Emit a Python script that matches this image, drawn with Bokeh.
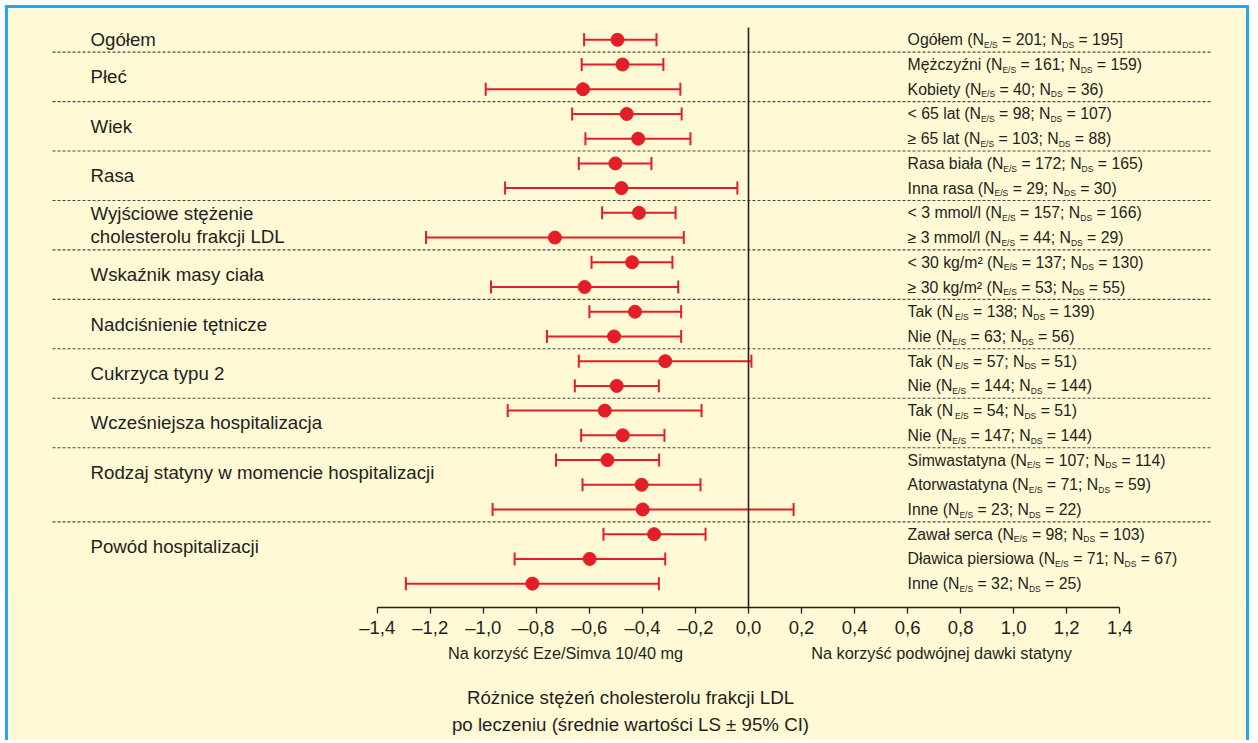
from bokeh.plotting import figure
from bokeh.models import (ColumnDataSource, Range1d, FixedTicker, Whisker, TeeHead,
                          LinearAxis)
from bokeh.embed import file_html
from bokeh.resources import INLINE
from bokeh.core.properties import value

# ---------------- data ----------------
group_labels = ["Ogółem", "Płeć", "Wiek", "Rasa",
                "Wyjściowe stężenie\ncholesterolu frakcji LDL",
                "Wskaźnik masy ciała", "Nadciśnienie tętnicze", "Cukrzyca typu 2",
                "Wcześniejsza hospitalizacja",
                "Rodzaj statyny w momencie hospitalizacji", "Powód hospitalizacji"]
group_sizes = [1, 2, 2, 2, 2, 2, 2, 2, 2, 3, 3]
row_labels = ["Ogółem", "Mężczyźni", "Kobiety", "< 65 lat", "≥ 65 lat",
              "Rasa biała", "Inna rasa", "< 3 mmol/l", "≥ 3 mmol/l",
              "< 30 kg/m²", "≥ 30 kg/m²", "Tak", "Nie", "Tak", "Nie", "Tak", "Nie",
              "Simwastatyna", "Atorwastatyna", "Inne",
              "Zawał serca", "Dławica piersiowa", "Inne"]
n_es = [201, 161, 40, 98, 103, 172, 29, 157, 44, 137, 53, 138, 63, 57, 144, 54, 147,
        107, 71, 23, 98, 71, 32]
n_ds = [195, 159, 36, 107, 88, 165, 30, 166, 29, 130, 55, 139, 56, 51, 144, 51, 144,
        114, 59, 22, 103, 67, 25]
ls_mean = [-0.494, -0.475, -0.624, -0.459, -0.416, -0.502, -0.479, -0.413, -0.730,
           -0.439, -0.618, -0.428, -0.507, -0.314, -0.497, -0.542, -0.474,
           -0.532, -0.403, -0.399, -0.356, -0.599, -0.815]
ci_low = [-0.620, -0.629, -0.991, -0.665, -0.615, -0.640, -0.918, -0.552, -1.216,
          -0.592, -0.971, -0.600, -0.760, -0.640, -0.655, -0.908, -0.631,
          -0.726, -0.626, -0.965, -0.547, -0.882, -1.292]
ci_high = [-0.347, -0.321, -0.257, -0.252, -0.219, -0.366, -0.042, -0.275, -0.244,
           -0.287, -0.265, -0.254, -0.254, 0.011, -0.338, -0.177, -0.317,
           -0.337, -0.181, 0.170, -0.162, -0.314, -0.338]
tick_values = [-1.4, -1.2, -1.0, -0.8, -0.6, -0.4, -0.2, 0.0, 0.2, 0.4, 0.6, 0.8, 1.0, 1.2, 1.4]
tick_labels = ["–1,4", "–1,2", "–1,0", "–0,8", "–0,6", "–0,4", "–0,2", "0,0",
               "0,2", "0,4", "0,6", "0,8", "1,0", "1,2", "1,4"]
side_labels = ["Na korzyść Eze/Simva 10/40 mg", "Na korzyść podwójnej dawki statyny"]
x_title = "Różnice stężeń cholesterolu frakcji LDL\npo leczeniu (średnie wartości LS ± 95% CI)"

# ---------------- layout / style ----------------
FONT = "Liberation Sans"
TXT = "#231F20"
RED = "#E41E26"
BG = "#FFF9D6"
BLUE = "#22A8EF"
W_PX, H_PX = 1244, 735
BOTTOM = 136
ZERO_PX = 740.0
PX_PER_UNIT = 742.5 / 2.8
ROW_TOP = -1.266
ROW_BOTTOM = 22.965
SIDE_POS = [-0.690, 0.728]
n_rows = len(row_labels)


def dx(px):
    return (px - ZERO_PX) / PX_PER_UNIT


AW = {' ': 278, '(': 333, ')': 333, '[': 278, ']': 278, ';': 278, ':': 278, ',': 278,
      '.': 278, '/': 278, '=': 584, '<': 584, '>': 584, '≥': 549, '²': 333, '-': 333}
for d in "0123456789":
    AW[d] = 556
AW.update({'a': 556, 'b': 556, 'c': 500, 'd': 556, 'e': 556, 'f': 278, 'g': 556, 'h': 556,
           'i': 222, 'j': 222, 'k': 500, 'l': 222, 'm': 833, 'n': 556, 'o': 556, 'p': 556,
           'q': 556, 'r': 333, 's': 500, 't': 278, 'u': 556, 'v': 500, 'w': 722, 'x': 500,
           'y': 500, 'z': 500, 'A': 667, 'B': 667, 'C': 722, 'D': 722, 'E': 667, 'F': 611,
           'G': 778, 'H': 722, 'I': 278, 'J': 500, 'K': 667, 'L': 556, 'M': 833, 'N': 722,
           'O': 778, 'P': 667, 'Q': 778, 'R': 722, 'S': 667, 'T': 611, 'U': 722, 'V': 667,
           'W': 944, 'X': 667, 'Y': 667, 'Z': 611, 'ą': 556, 'ć': 500, 'ę': 556, 'ł': 222,
           'ń': 556, 'ó': 556, 'ś': 500, 'ź': 500, 'ż': 500, 'Ł': 556, 'Ż': 611, 'Ś': 667})


def tw(s, size):
    return sum(AW.get(ch, 556) for ch in s) * size / 1000.0


p = figure(width=W_PX, height=H_PX, output_backend="svg", toolbar_location=None,
           x_range=Range1d(dx(0), dx(W_PX)), y_range=Range1d(ROW_BOTTOM, ROW_TOP),
           y_axis_location=None, min_border_left=0, min_border_right=0,
           min_border_top=0, min_border_bottom=BOTTOM)
p.styles = {"margin-left": "5px", "margin-top": "5px",
            "border-top": f"3px solid {BLUE}", "border-left": f"3px solid {BLUE}",
            "border-right": f"3px solid {BLUE}"}
p.background_fill_color = BG
p.border_fill_color = BG
p.outline_line_color = None
p.xgrid.grid_line_color = None
p.ygrid.grid_line_color = None

ax = p.xaxis[0]
ax.ticker = FixedTicker(ticks=tick_values)
ax.major_label_overrides = {v: l for v, l in zip(tick_values, tick_labels)}
ax.bounds = (tick_values[0], tick_values[-1])
ax.axis_line_color = TXT
ax.axis_line_width = 1.3
ax.major_tick_line_color = TXT
ax.major_tick_line_width = 1.3
ax.major_tick_in = 0
ax.major_tick_out = 6
ax.minor_tick_line_color = None
ax.major_label_standoff = 3
ax.major_label_text_font = FONT
ax.major_label_text_font_size = "18.5px"
ax.major_label_text_color = TXT

# second (invisible) axis carrying the "in favour of" captions and the axis title
ax2 = LinearAxis(ticker=FixedTicker(ticks=SIDE_POS),
                 major_label_overrides={v: l for v, l in zip(SIDE_POS, side_labels)},
                 bounds=(tick_values[0], tick_values[-1]))
ax2.axis_line_color = None
ax2.major_tick_line_color = None
ax2.minor_tick_line_color = None
ax2.major_tick_in = 0
ax2.major_tick_out = 0
ax2.major_label_standoff = 3
ax2.major_label_text_font = FONT
ax2.major_label_text_font_size = "16.3px"
ax2.major_label_text_color = TXT
ax2.axis_label = x_title
ax2.axis_label_text_font = FONT
ax2.axis_label_text_font_style = "normal"
ax2.axis_label_text_font_size = "18.7px"
ax2.axis_label_text_color = TXT
ax2.axis_label_standoff = 22
ax2.axis_label_text_line_height = 1.33
p.add_layout(ax2, "below")

# separators between groups
bounds = []
acc = 0
for g in group_sizes[:-1]:
    acc += g
    bounds.append(acc - 0.5)
p.segment(x0=[dx(44)] * len(bounds), x1=[dx(1202)] * len(bounds), y0=bounds, y1=bounds,
          line_color="#4A4A4A", line_width=1.1, line_dash="3 2")

# zero line
p.segment(x0=[0], x1=[0], y0=[-0.5], y1=[n_rows + 1], line_color=TXT, line_width=1.6)

# estimates with CI
rows = list(range(n_rows))
src = ColumnDataSource(dict(row=rows, m=ls_mean, lo=ci_low, hi=ci_high))
wh = Whisker(source=src, base="row", lower="lo", upper="hi", dimension="width",
             line_color=RED, line_width=2,
             lower_head=TeeHead(size=13, line_color=RED, line_width=2),
             upper_head=TeeHead(size=13, line_color=RED, line_width=2))
p.add_layout(wh)
p.scatter(x="m", y="row", source=src, size=13, fill_color=RED, line_color=RED)

# group labels on the left
gy = []
start = 0
for g in group_sizes:
    gy.append(start + (0.5 if g > 1 else 0.0))
    start += g
p.text(x=[dx(82)] * len(group_labels), y=gy, text=group_labels,
       text_font=value(FONT), text_font_size="18.7px", text_color=TXT,
       text_baseline="middle", text_align="left", text_line_height=1.1)

# subgroup labels with subscripts on the right
F, FS = 15.8, 8.5
SP = tw(" ", F)
x_start = 0.6
pieces = {"t1": [], "x1": [], "s1x": [], "t2": [], "x2": [], "s2x": [], "t3": [], "x3": []}
for lab, a, b in zip(row_labels, n_es, n_ds):
    closing = "]" if lab == "Ogółem" else ")"
    t1 = f"{lab} (N"
    t2 = f"= {a}; N"
    t3 = f"= {b}{closing}"
    x = x_start
    pieces["t1"].append(t1); pieces["x1"].append(x)
    x += tw(t1, F) / PX_PER_UNIT
    pieces["s1x"].append(x)
    x += (tw("E/S", FS) + SP) / PX_PER_UNIT
    pieces["t2"].append(t2); pieces["x2"].append(x)
    x += tw(t2, F) / PX_PER_UNIT
    pieces["s2x"].append(x)
    x += (tw("DS", FS) + SP) / PX_PER_UNIT
    pieces["t3"].append(t3); pieces["x3"].append(x)

sub_rows = [r + 0.21 for r in rows]
common = dict(text_font=value(FONT), text_color=TXT, text_align="left", text_baseline="middle")
p.text(x=pieces["x1"], y=rows, text=pieces["t1"], text_font_size=f"{F}px", **common)
p.text(x=pieces["x2"], y=rows, text=pieces["t2"], text_font_size=f"{F}px", **common)
p.text(x=pieces["x3"], y=rows, text=pieces["t3"], text_font_size=f"{F}px", **common)
p.text(x=pieces["s1x"], y=sub_rows, text=["E/S"] * n_rows, text_font_size=f"{FS}px", **common)
p.text(x=pieces["s2x"], y=sub_rows, text=["DS"] * n_rows, text_font_size=f"{FS}px", **common)

open("out.html", "w").write(file_html(p, INLINE))
